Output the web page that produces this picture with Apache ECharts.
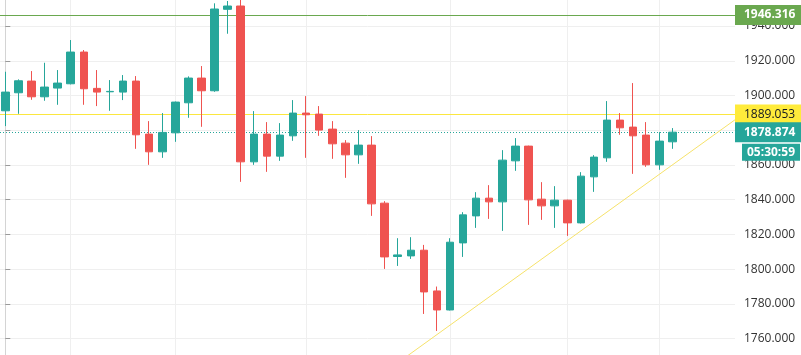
<!DOCTYPE html>
<html><head><meta charset="utf-8">
<script src="https://cdn.jsdelivr.net/npm/echarts@6/dist/echarts.min.js"></script>
<style>html,body{margin:0;padding:0;background:#fff;overflow:hidden}#c{width:801px;height:355px}</style>
</head><body><div id="c"></div>
<script>
// candle positions (bar index)
const bars = [0,1,2,3,4,5,6,7,8,9,10,11,12,13,14,15,16,17,18,19,20,21,22,23,24,25,26,27,28,29,30,31,32,33,34,35,36,37,38,39,40,41,42,43,44,45,46,47,48,49,50,51];
const opens = [1891.18,1901.56,1908.30,1899.25,1904.27,1906.74,1925.01,1904.09,1902.13,1901.96,1908.30,1877.75,1867.55,1878.50,1895.79,1910.03,1902.71,1949.63,1951.53,1861.79,1877.75,1865.07,1876.77,1889.86,1889.28,1880.63,1872.56,1865.82,1871.41,1837.98,1807.26,1807.61,1810.89,1787.43,1776.48,1815.10,1830.66,1840.86,1838.73,1862.36,1870.84,1840.29,1836.43,1839.71,1826.63,1853.14,1864.09,1885.82,1881.79,1877.18,1860.06,1873.31];
const closes = [1901.96,1908.47,1899.25,1904.84,1907.15,1925.01,1903.86,1901.96,1902.36,1908.30,1877.35,1867.55,1878.73,1896.20,1910.03,1902.71,1949.80,1951.53,1861.79,1877.75,1865.07,1877.18,1889.86,1888.88,1880.06,1872.16,1865.82,1871.41,1837.58,1807.03,1808.18,1810.89,1786.86,1776.48,1815.50,1831.24,1840.86,1838.73,1862.77,1870.84,1839.88,1836.43,1839.71,1826.63,1853.54,1864.50,1885.82,1881.38,1876.77,1860.06,1873.72,1878.874];
const lows = [1882.36,1889.45,1897.52,1896.95,1894.64,1906.40,1894.64,1893.89,1891.18,1897.35,1869.28,1860.06,1864.09,1873.31,1887.15,1881.96,1902.13,1935.56,1850.26,1860.06,1856.02,1862.36,1873.89,1864.09,1876.77,1863.52,1852.57,1860.63,1830.66,1800.12,1801.84,1805.88,1774.18,1764.38,1776.20,1807.03,1823.75,1828.93,1822.02,1856.60,1825.48,1828.36,1823.75,1819.14,1826.30,1844.50,1861.79,1877.35,1854.87,1858.90,1857.18,1869.28];
const highs = [1913.66,1909.28,1914.06,1918.85,1914.64,1931.93,1926.17,1914.64,1908.88,1911.76,1911.18,1885.24,1889.86,1896.50,1911.01,1916.95,1953.08,1954.41,1955.60,1891.01,1884.67,1884.09,1897.35,1899.65,1893.89,1885.24,1874.29,1880.06,1876.60,1839.14,1817.81,1818.39,1813.95,1789.97,1817.81,1832.80,1844.32,1848.36,1868.53,1875.45,1871.10,1850.09,1847.78,1840.00,1855.85,1865.65,1896.77,1889.86,1907.15,1884.67,1878.90,1881.21];
// vertical grid lines (bar index where period starts)
const periodStarts = [5,13,23,34,43,50];
// horizontal levels
const resistanceLevel = 1946.316;
const yellowLevel = 1889.053;
const lastPrice = 1878.874;
const countdown = '05:30:59';
// rising trend line points [barIndex, price]
const trendX = [30, 55.79];
const trendY = [1746.0, 1886.0];

const chart = echarts.init(document.getElementById('c'), null, {renderer:'canvas'});
const FONT = 'Open Sans';
const option = {
  animation: false,
  backgroundColor: '#ffffff',
  grid: {left: 0, right: 66, top: -8.7, bottom: -18.3, outerBoundsMode: 'none', containLabel: false},
  xAxis: {
    type: 'value', min: -0.405, max: 55.79,
    axisLine: {show: false},
    axisTick: {show: false, customValues: periodStarts},
    axisLabel: {show: false, customValues: periodStarts},
    splitLine: {show: true, lineStyle: {color: '#efefef', width: 1}}
  },
  yAxis: {
    type: 'value', position: 'right', min: 1740, max: 1960, interval: 20, scale: true,
    axisLine: {show: true, lineStyle: {color: '#d4d4d4'}},
    axisTick: {show: true, length: 5, lineStyle: {color: '#9a9a9a'}},
    axisLabel: {margin: 9, color: '#333333', fontSize: 12, fontFamily: FONT,
      formatter: v => v.toFixed(3), showMinLabel: false, showMaxLabel: false},
    splitLine: {show: true, lineStyle: {color: '#efefef', width: 1}}
  },
  series: [
    {
      type: 'line', z: 1, symbol: 'none', silent: true, clip: true,
      data: trendX.map((x, i) => [x, trendY[i]]),
      lineStyle: {color: '#f6e26a', width: 1},
      markLine: {
        z: 1, symbol: 'none', silent: true, animation: false, precision: 3,
        data: [
          {yAxis: resistanceLevel, lineStyle: {color: '#6aa84f', width: 1, type: 'solid'},
           label: {backgroundColor: '#6aa84f', color: '#ffffff', fontWeight: 'bold', formatter: resistanceLevel.toFixed(3)}},
          {yAxis: yellowLevel, lineStyle: {color: '#fbe73f', width: 1, type: 'solid'},
           label: {backgroundColor: '#ffeb3b', color: '#131722', fontWeight: 'normal', formatter: yellowLevel.toFixed(3)}},
          {yAxis: lastPrice, lineStyle: {color: '#26a69a', width: 1, type: [1, 2]},
           label: {backgroundColor: '#26a69a', color: '#ffffff', fontWeight: 'bold', formatter: lastPrice.toFixed(3)}}
        ],
        label: {
          show: true, position: 'end', distance: 0, fontFamily: FONT, fontSize: 12,
          padding: [4, 14, 4, 9]
        }
      }
    },
    {
      type: 'candlestick', z: 3, barWidth: 8,
      data: bars.map((x, i) => [x, opens[i], closes[i], lows[i], highs[i]]),
      itemStyle: {color: '#26a69a', color0: '#ef5350', borderColor: '#26a69a', borderColor0: '#ef5350', borderWidth: 1}
    }
  ]
};
chart.setOption(option);
const yPx = chart.convertToPixel({yAxisIndex: 0}, closes[closes.length - 1]);
chart.setOption({
  graphic: [{
    type: 'text', x: 742, y: yPx + 20, z: 100,
    style: {text: countdown, fill: '#ffffff', backgroundColor: '#26a69a', padding: [3, 5, 2, 5],
      font: 'bold 12px "Open Sans"', verticalAlign: 'middle', align: 'left'}
  }]
});
</script></body></html>
